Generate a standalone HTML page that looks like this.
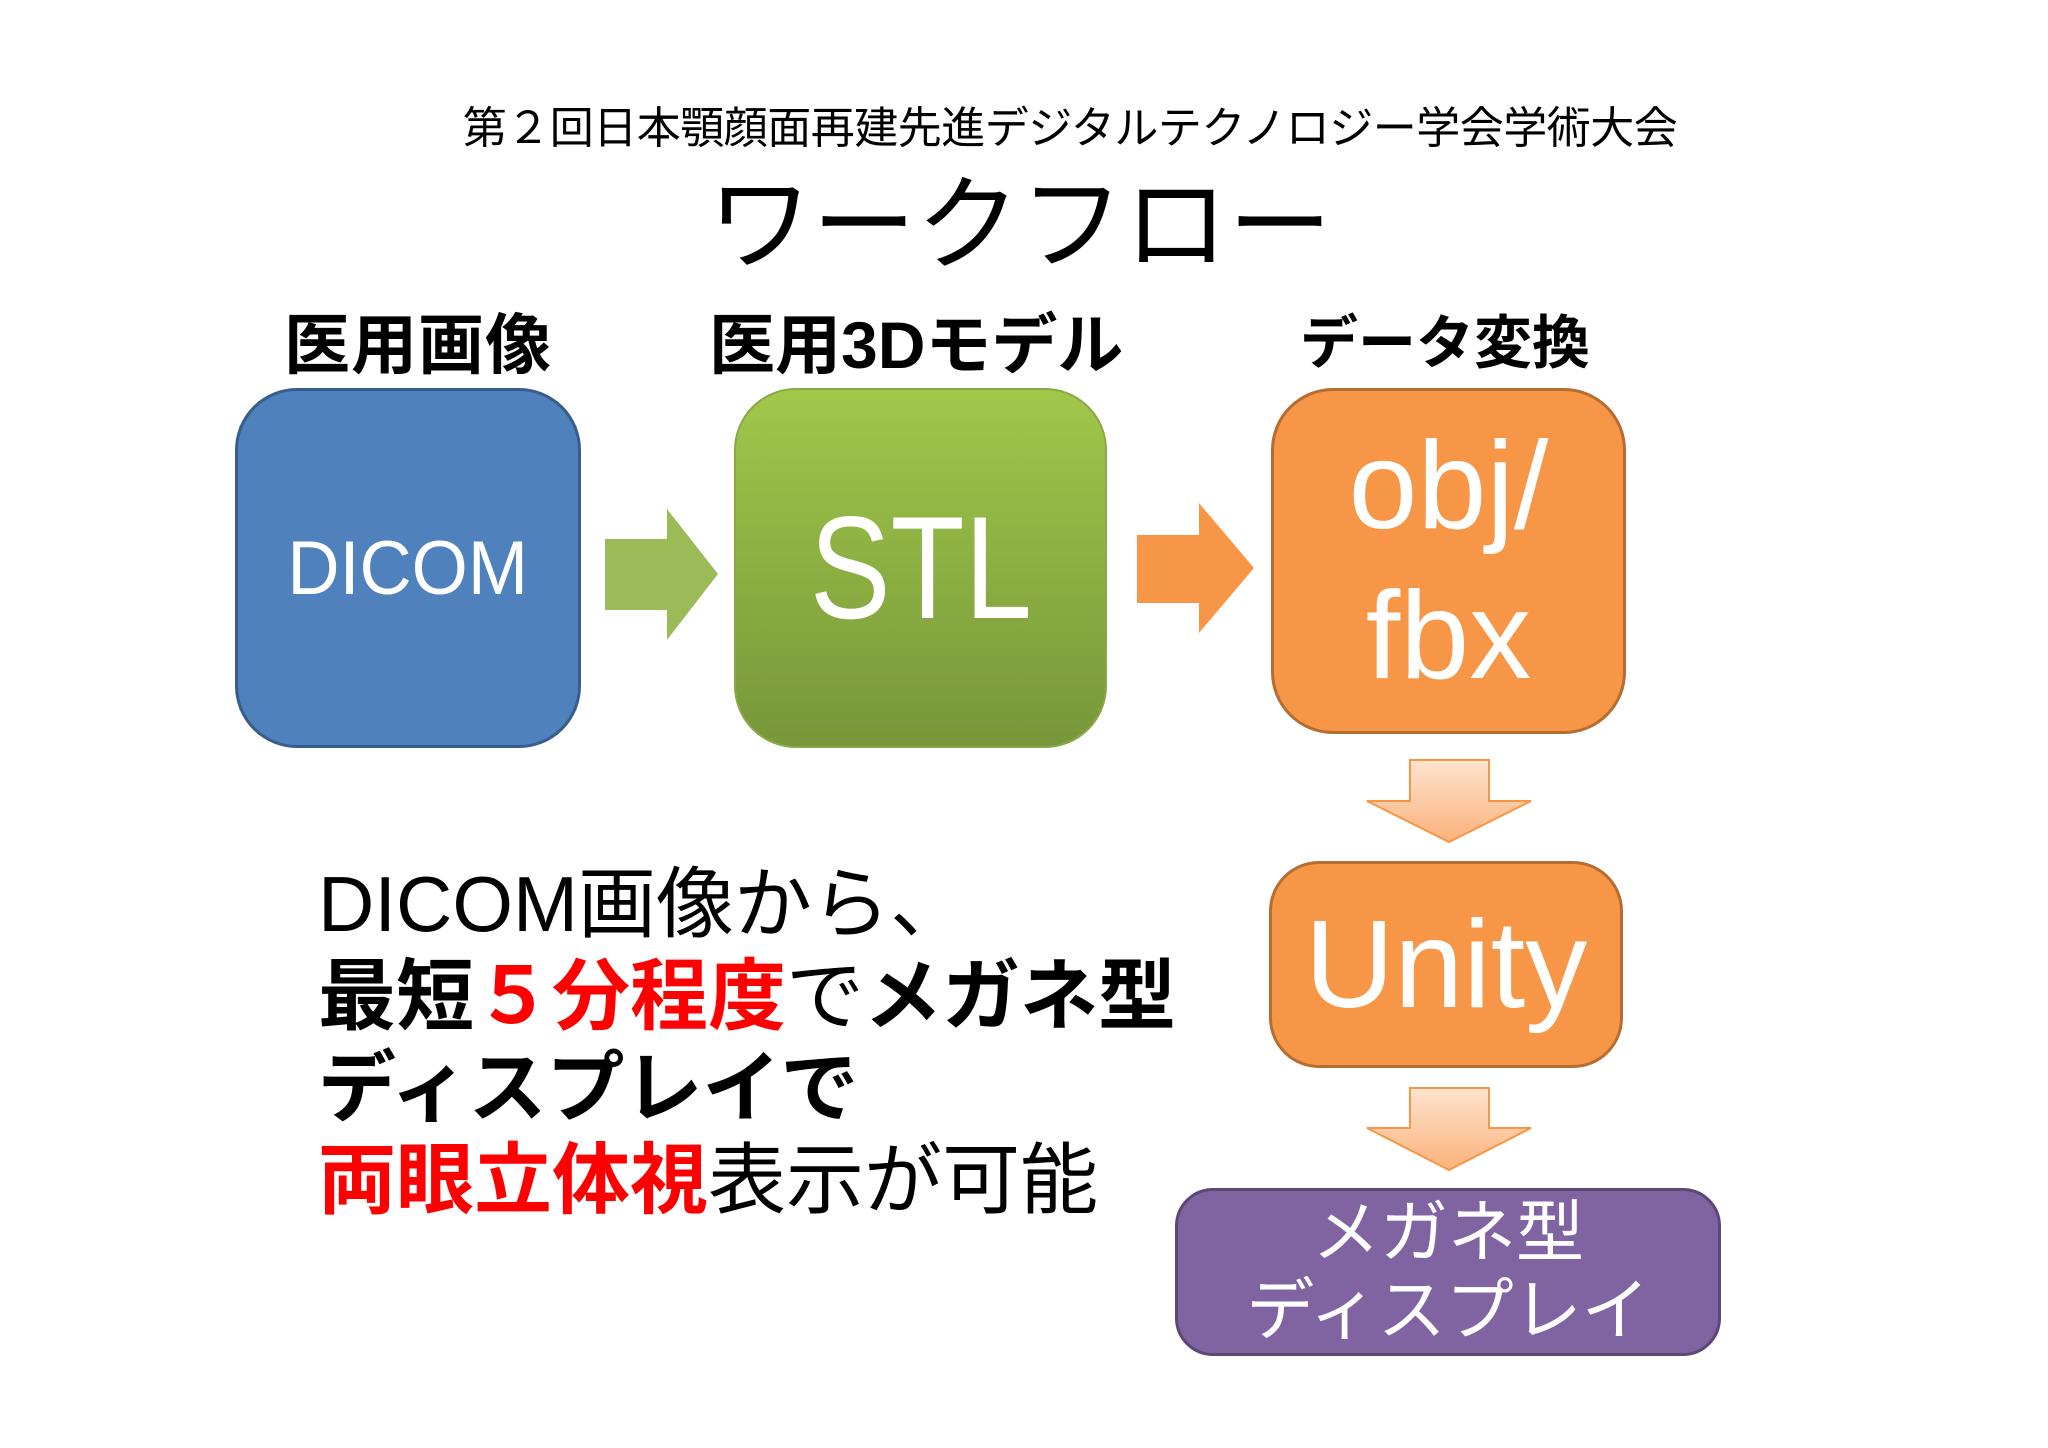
<!DOCTYPE html>
<html><head><meta charset="utf-8"><style>
body{margin:0;width:2048px;height:1448px;background:#fff;position:relative;overflow:hidden;font-family:"Liberation Sans","Noto Sans CJK JP",sans-serif;}
.a{position:absolute;white-space:nowrap;}
.box{position:absolute;box-sizing:border-box;display:flex;align-items:center;justify-content:center;color:#fff;text-align:center;}
.red{color:#ff0000;}
</style></head><body>
<div class="a" style="left:440px;top:92px;font-size:44px;width:1260px;text-align:center;letter-spacing:-0.5px;">第２回日本顎顔面再建先進デジタルテクノロジー学会学術大会</div>
<div class="a" style="left:700px;top:140px;font-size:104px;width:640px;text-align:center;">ワークフロー</div>
<div class="a" style="left:284px;top:292px;font-size:66px;font-weight:bold;letter-spacing:1px;">医用画像</div>
<div class="a" style="left:709px;top:292px;font-size:66px;font-weight:bold;letter-spacing:0px;">医用3Dモデル</div>
<div class="a" style="left:1300px;top:296px;font-size:58px;font-weight:bold;letter-spacing:0px;">データ変換</div>

<div class="box" style="left:235px;top:388px;width:346px;height:360px;border-radius:62px;background:#4f81bd;border:3px solid #385d8a;font-size:76px;"><span style="display:inline-block;transform:scaleX(0.95)">DICOM</span></div>
<div class="box" style="left:734px;top:388px;width:373px;height:360px;border-radius:62px;background:linear-gradient(#a1c74a,#77973a);border:2px solid #8aa848;font-size:146px;"><span style="display:inline-block;transform:scaleX(0.83)">STL</span></div>
<div class="box" style="left:1271px;top:388px;width:355px;height:346px;border-radius:62px;background:#f79646;border:3px solid #b66d31;font-size:124px;line-height:150px;">obj/<br>fbx</div>
<div class="box" style="left:1269px;top:861px;width:354px;height:207px;border-radius:50px;background:#f79646;border:3px solid #b66d31;font-size:124px;">Unity</div>
<div class="box" style="left:1175px;top:1188px;width:546px;height:168px;border-radius:38px;background:#8064a2;border:3px solid #5c4776;font-size:68px;line-height:78px;">メガネ型<br>ディスプレイ</div>

<svg class="a" style="left:0;top:0" width="2048" height="1448">
<defs>
<linearGradient id="og" x1="0" y1="0" x2="0" y2="1"><stop offset="0" stop-color="#fde4cf"/><stop offset="1" stop-color="#fbb27a"/></linearGradient>
</defs>
<polygon points="605,539 667,539 667,509 718,574 667,640 667,610 605,610" fill="#9bbb59"/>
<polygon points="1137,535 1199,535 1199,503 1254,568 1199,633 1199,603 1137,603" fill="#f79646"/>
<polygon points="1410,760 1489,760 1489,801 1531,801 1449,842 1367,801 1410,801" fill="url(#og)" stroke="#f79646" stroke-width="2"/>
<polygon points="1410,1088 1489,1088 1489,1128 1531,1128 1449,1170 1367,1128 1410,1128" fill="url(#og)" stroke="#f79646" stroke-width="2"/>
</svg>

<div class="a" style="left:318px;top:858px;font-size:78px;line-height:92px;letter-spacing:0px;">
<div>DICOM画像から、</div>
<div style="font-weight:bold;">最短<span class="red">５分程度</span><span style="font-weight:normal">で</span>メガネ型</div>
<div style="font-weight:bold;">ディスプレイで</div>
<div><span class="red" style="font-weight:bold;">両眼立体視</span>表示が可能</div>
</div>
</body></html>
